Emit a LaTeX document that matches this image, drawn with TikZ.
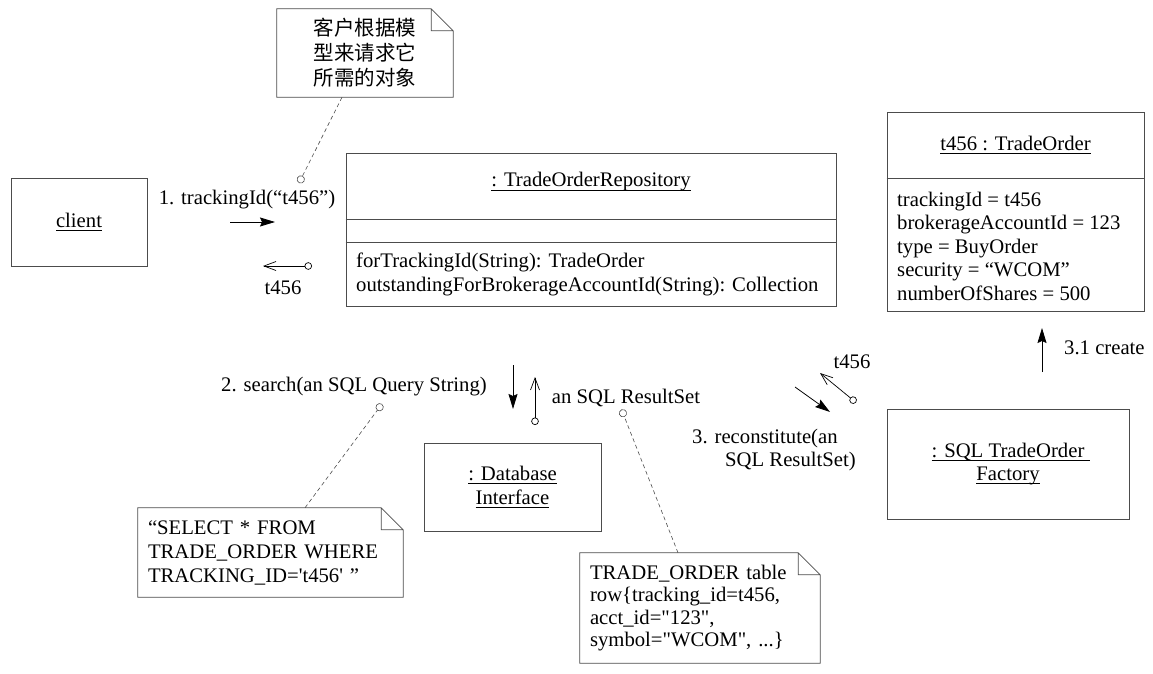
\documentclass[tikz,border=0pt]{standalone}
\usepackage{fontspec}
\setmainfont{Liberation Serif}
\newfontfamily\cjk{Noto Sans CJK SC}
\usetikzlibrary{arrows.meta}

% underlined object name, line through the descenders
\newlength\ulwd
\newcommand\objname[1]{\settowidth\ulwd{#1}\rlap{\rule[-3.5pt]{\ulwd}{0.8pt}}#1}

\tikzset{
  obj/.style={draw=black!70, line width=0.8pt, align=center},
  note/.style={inner xsep=10pt, align=left},
  msg/.style={-{Stealth[length=15pt,width=9pt,inset=2pt]}, line width=0.8pt},
  reply/.style={{Circle[open,length=7.5pt]}-{Straight Barb[length=12pt,width=9pt]}, line width=0.7pt},
  notelink/.style={draw=black!70, dash pattern=on 4pt off 3pt, line width=0.6pt, -{Circle[open,length=8pt]}}
}

% outline of a note with a folded corner
\newcommand\notefold[1]{%
  \draw[draw=black!70, line width=0.8pt] (#1.north west) -- ([xshift=-22pt]#1.north east)
    -- ([yshift=-22pt]#1.north east) -- (#1.south east) -- (#1.south west) -- cycle
    ([xshift=-22pt]#1.north east) |- ([yshift=-22pt]#1.north east);}

\begin{document}
\begin{tikzpicture}[x=1pt,y=-1pt,inner sep=0pt,font=\fontsize{20.7}{23.5}\selectfont]
\useasboundingbox (0,0) rectangle (1153,674);

% objects
\node[obj, minimum width=136pt, minimum height=88pt] (client) at (79,222) {\objname{client}};

\node[obj, minimum width=490pt, minimum height=153pt] (repo) at (591,229.5) {};
\node (reponame) at (591,182) {\objname{: TradeOrderRepository}};
\draw[draw=black!70, line width=0.8pt] (repo.west |- 0,219) -- (repo.east |- 0,219)
                                        (repo.west |- 0,242) -- (repo.east |- 0,242);
\node[anchor=west, align=left] (repoops) at (356,274.5)
  {forTrackingId(String): TradeOrder\\outstandingForBrokerageAccountId(String): Collection};

\node[obj, minimum width=257pt, minimum height=199pt] (order) at (1015.5,211.5) {};
\node (ordername) at (1015.5,145) {\objname{t456 : TradeOrder}};
\draw[draw=black!70, line width=0.8pt] (order.west |- 0,178) -- (order.east |- 0,178);
\node[anchor=west, align=left] (orderattrs) at (897,246)
  {trackingId = t456\\brokerageAccountId = 123\\type = BuyOrder\\security = “WCOM”\\numberOfShares = 500};

\node[obj, minimum width=242pt, minimum height=110pt] (factory) at (1008,464)
  {\objname{: SQL TradeOrder\ }\\\objname{Factory}};
\node[obj, minimum width=177pt, minimum height=88pt] (db) at (512.5,487)
  {\objname{: Database}\\\objname{Interface}};

% notes
\node[note, text width=156pt, minimum height=88pt, align=center, font=\cjk\fontsize{20.5}{25}\selectfont]
  (cnnote) at (365,53) {客户根据模\\型来请求它\\所需的对象};
\notefold{cnnote}
\node[note, text width=245pt, minimum height=89pt, font=\fontsize{20.7}{24}\selectfont] (selnote) at (270.5,552.5)
  {“SELECT * FROM\\TRADE\_ORDER WHERE\\TRACKING\_ID=\textquotesingle t456\textquotesingle\ ”};
\notefold{selnote}
\node[note, text width=220pt, minimum height=110pt, font=\fontsize{20.7}{22.5}\selectfont] (tabnote) at (700,608)
  {TRADE\_ORDER table\\row\{tracking\_id=t456,\\acct\_id=\textquotedbl 123\textquotedbl,\\symbol=\textquotedbl WCOM\textquotedbl, ...\}};
\notefold{tabnote}

% message 1
\coordinate (m1s) at (230,222);
\coordinate (m1e) at (275,222);
\draw[msg] (m1s) -- (m1e);
\node (m1) at (247,200) {1. trackingId(“t456”)};
\coordinate (r1s) at (312,266);
\coordinate (r1e) at (263,266);
\draw[reply] (r1s) -- (r1e);
\node (r1) at (283,288) {t456};
\coordinate (cnpin) at (299,183);
\draw[notelink] ([xshift=-23pt]cnnote.south) -- (cnpin);

% message 2
\coordinate (m2s) at (513,365);
\coordinate (m2e) at (513,409);
\draw[msg] (m2s) -- (m2e);
\node (m2) at (354,387) {2. search(an SQL Query String)};
\coordinate (r2s) at (535,425);
\coordinate (r2e) at (535,377);
\draw[reply] (r2s) -- (r2e);
\node (r2) at (626,398) {an SQL ResultSet};
\coordinate (selpin) at (382,404);
\draw[notelink] ([xshift=34.5pt]selnote.north) -- (selpin);
\coordinate (tabpin) at (621.5,409.5);
\draw[notelink] ([xshift=-22pt]tabnote.north) -- (tabpin);

% message 3
\coordinate (m3s) at (795,387);
\coordinate (m3e) at (830,412);
\draw[msg] (m3s) -- (m3e);
\node[anchor=west, align=left] (m3) at (692,450) {3. reconstitute(an\\\hspace*{33pt}SQL ResultSet)};
\coordinate (r3s) at (856,402.5);
\coordinate (r3e) at (820,373);
\draw[reply] (r3s) -- (r3e);
\node (r3) at (852,362) {t456};

% message 3.1
\coordinate (m31s) at (1042,372);
\coordinate (m31e) at (1042,328);
\draw[msg] (m31s) -- (m31e);
\node[anchor=west] (m31) at (1064,348) {3.1 create};
\end{tikzpicture}
\end{document}
